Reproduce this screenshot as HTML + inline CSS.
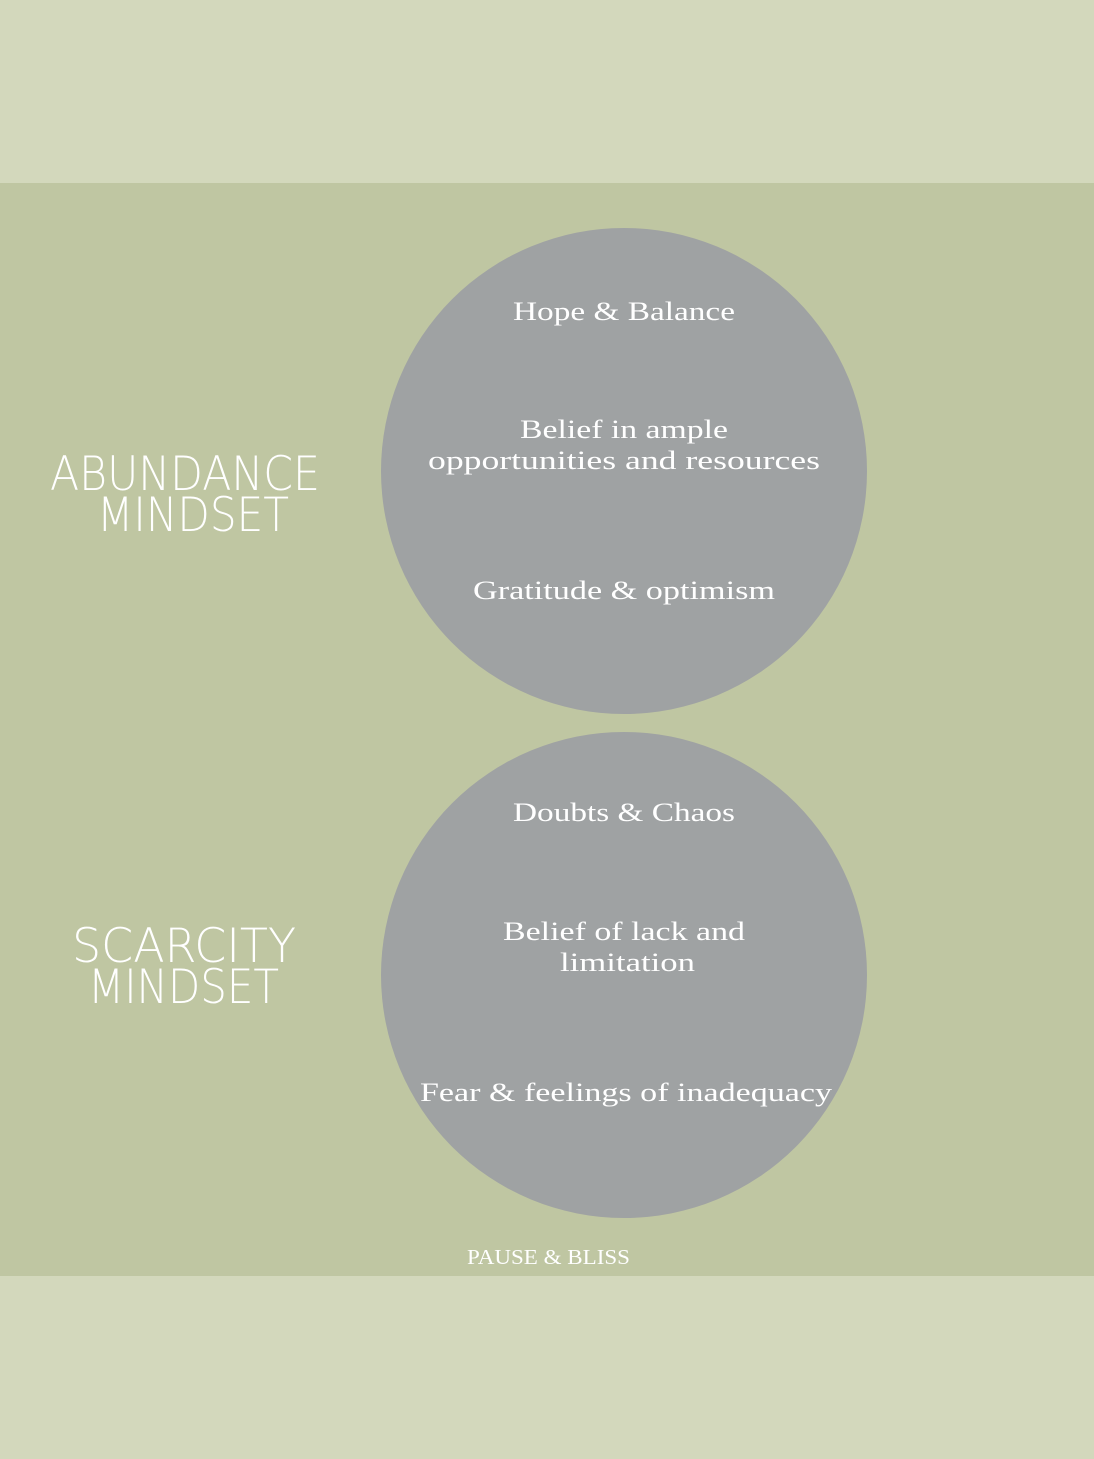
<!DOCTYPE html>
<html><head><meta charset="utf-8"><style>
html,body{margin:0;padding:0;width:1094px;height:1459px;overflow:hidden;background:#d3d8bc}
svg{display:block}
.s{font-family:"Liberation Serif",serif;fill:#fff;font-size:26px}
.t{font-family:"DejaVu Sans","Liberation Sans",sans-serif;font-weight:200;fill:#fff;font-size:47px}
</style></head><body>
<svg width="1094" height="1459" viewBox="0 0 1094 1459">
<rect x="0" y="0" width="1094" height="1459" fill="#d3d8bc"/>
<rect x="0" y="183" width="1094" height="1093" fill="#bfc6a2"/>
<circle cx="624" cy="471" r="243" fill="#9fa2a3"/>
<circle cx="624" cy="975" r="243" fill="#9fa2a3"/>
<g class="t">
<text x="50" y="490" textLength="270" lengthAdjust="spacingAndGlyphs">ABUNDANCE</text>
<text x="97" y="531" textLength="192" lengthAdjust="spacingAndGlyphs">MINDSET</text>
<text x="72" y="962" textLength="224" lengthAdjust="spacingAndGlyphs">SCARCITY</text>
<text x="88" y="1003" textLength="191" lengthAdjust="spacingAndGlyphs">MINDSET</text>
</g>
<g class="s">
<text x="513" y="320" textLength="222" lengthAdjust="spacingAndGlyphs">Hope &amp; Balance</text>
<text x="520" y="438" textLength="208" lengthAdjust="spacingAndGlyphs">Belief in ample</text>
<text x="428" y="469" textLength="392" lengthAdjust="spacingAndGlyphs">opportunities and resources</text>
<text x="473" y="599" textLength="302" lengthAdjust="spacingAndGlyphs">Gratitude &amp; optimism</text>
<text x="513" y="821" textLength="222" lengthAdjust="spacingAndGlyphs">Doubts &amp; Chaos</text>
<text x="503" y="940" textLength="242" lengthAdjust="spacingAndGlyphs">Belief of lack and</text>
<text x="560" y="971" textLength="135" lengthAdjust="spacingAndGlyphs">limitation</text>
<text x="420" y="1101" textLength="412" lengthAdjust="spacingAndGlyphs">Fear &amp; feelings of inadequacy</text>
<text x="467" y="1264" textLength="163" lengthAdjust="spacingAndGlyphs" style="font-size:21px">PAUSE &amp; BLISS</text>
</g>
</svg>
</body></html>
